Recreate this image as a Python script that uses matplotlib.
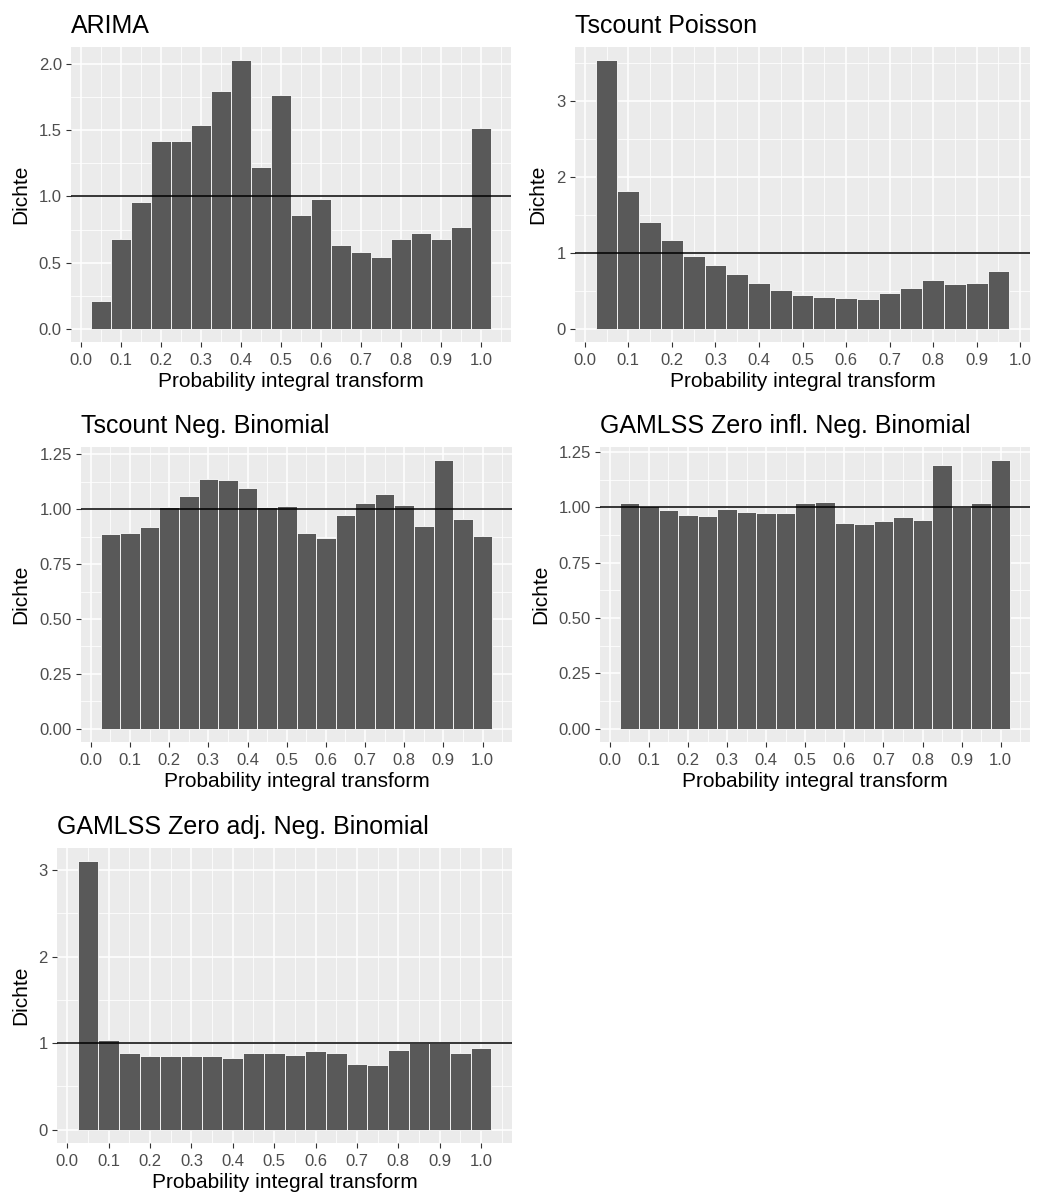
import matplotlib.pyplot as plt
from matplotlib.ticker import MultipleLocator

plt.rcParams['font.family'] = ['Liberation Sans', 'DejaVu Sans']

# bin centres of the PIT histograms (bin width 0.05)
bins = [0.05, 0.10, 0.15, 0.20, 0.25, 0.30, 0.35, 0.40, 0.45, 0.50,
        0.55, 0.60, 0.65, 0.70, 0.75, 0.80, 0.85, 0.90, 0.95, 1.00]
bin_width = 0.05

arima = [0.21, 0.68, 0.96, 1.42, 1.42, 1.54, 1.80, 2.03, 1.22, 1.77,
         0.86, 0.98, 0.63, 0.58, 0.54, 0.68, 0.725, 0.68, 0.77, 1.52]
poisson = [3.54, 1.82, 1.41, 1.17, 0.96, 0.84, 0.72, 0.605, 0.51, 0.45,
           0.42, 0.41, 0.395, 0.47, 0.54, 0.645, 0.59, 0.605, 0.76]
negbin = [0.886, 0.891, 0.918, 1.009, 1.059, 1.136, 1.132, 1.095, 1.009, 1.014,
          0.891, 0.868, 0.973, 1.027, 1.068, 1.018, 0.923, 1.223, 0.955, 0.877]
zinb = [1.018, 1.005, 0.986, 0.964, 0.959, 0.991, 0.977, 0.973, 0.973, 1.018,
        1.023, 0.928, 0.923, 0.937, 0.955, 0.941, 1.189, 1.0, 1.018, 1.212]
zanb = [3.10, 1.04, 0.89, 0.854, 0.854, 0.854, 0.854, 0.83, 0.89, 0.89,
        0.865, 0.91, 0.89, 0.76, 0.75, 0.92, 1.0, 1.0, 0.89, 0.946]

titles = ["ARIMA", "Tscount Poisson", "Tscount Neg. Binomial",
          "GAMLSS Zero infl. Neg. Binomial", "GAMLSS Zero adj. Neg. Binomial"]
series = [arima, poisson, negbin, zinb, zanb]
y_major = [0.5, 1, 0.25, 0.25, 1]
y_fmt = ["%.1f", "%d", "%.2f", "%.2f", "%d"]

# panel boxes in pixels: left, right, top, bottom
W, H = 1037, 1197
boxes = [(71, 511, 47, 342), (575, 1030, 47, 342),
         (81, 512, 447, 742), (600, 1030, 447, 742),
         (57, 512, 848, 1143)]
ylab_x = [21, 538, 21, 541, 21]

fig = plt.figure(figsize=(W / 100, H / 100), dpi=100)

for i in range(5):
    l, r, t, b = boxes[i]
    ax = fig.add_axes([l / W, 1 - b / H, (r - l) / W, (b - t) / H])
    vals = series[i]
    x = bins[:len(vals)]
    ax.set_facecolor("#EBEBEB")
    ax.bar(x, vals, width=bin_width, color="#595959", edgecolor="white",
           linewidth=0.6, zorder=2)
    ax.axhline(1, color="black", lw=1.1, zorder=3)

    xlo, xhi = x[0] - bin_width / 2, x[-1] + bin_width / 2
    xe = (xhi - xlo) * 0.05
    ax.set_xlim(xlo - xe, xhi + xe)
    ymax = max(vals)
    ax.set_ylim(-0.05 * ymax, 1.05 * ymax)

    ax.xaxis.set_major_locator(MultipleLocator(0.1))
    ax.xaxis.set_minor_locator(MultipleLocator(0.05))
    ax.yaxis.set_major_locator(MultipleLocator(y_major[i]))
    ax.yaxis.set_minor_locator(MultipleLocator(y_major[i] / 2))
    ax.xaxis.set_major_formatter(plt.FormatStrFormatter("%.1f"))
    ax.yaxis.set_major_formatter(plt.FormatStrFormatter(y_fmt[i]))

    ax.grid(which="major", color="white", lw=1.1, zorder=0)
    ax.grid(which="minor", color="white", lw=0.55, zorder=0)
    ax.set_axisbelow(True)
    for s in ax.spines.values():
        s.set_visible(False)
    ax.tick_params(which="major", length=3.6, width=0.8, color="#333333",
                   labelcolor="#4D4D4D", labelsize=12)
    ax.tick_params(axis="x", pad=4)
    ax.tick_params(axis="y", pad=3)
    ax.tick_params(which="minor", length=0)

    ax.set_xlabel("Probability integral transform", fontsize=15, labelpad=3)
    fig.text(ylab_x[i] / W, 1 - (t + b) / 2 / H, "Dichte", rotation=90,
             fontsize=15, ha="center", va="center")
    ax.set_title(titles[i], loc="left", fontsize=18, pad=10)

fig.savefig("out.png", dpi=100)
